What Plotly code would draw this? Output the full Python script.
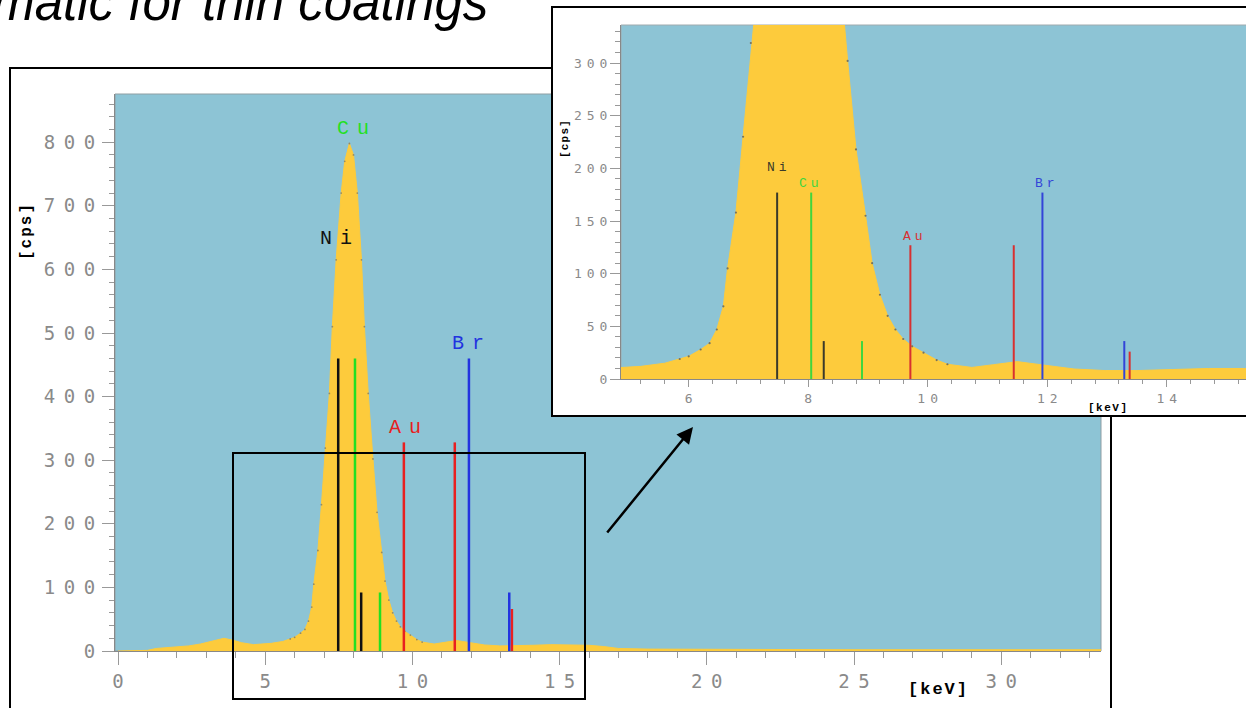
import plotly.graph_objects as go

W, H = 1246, 708

# ---------------- data ----------------
energy_kev = [0.0, 0.8, 1.0, 1.3, 1.6, 2.0, 2.4, 2.8, 3.2, 3.6, 3.9, 4.2, 4.6, 4.9,
              5.2, 5.6, 5.85, 6.0, 6.2, 6.35, 6.47, 6.58, 6.65, 6.79, 6.91, 7.04,
              7.18, 7.28, 7.41, 7.58, 7.7, 7.86, 8.0, 8.13, 8.27, 8.37, 8.5, 8.66,
              8.8, 8.96, 9.07, 9.2, 9.33, 9.46, 9.59, 9.74, 9.93, 10.15, 10.33,
              10.74, 11.1, 11.5, 11.7, 12.0, 12.45, 12.97, 13.5, 14.1, 14.7, 15.3,
              16.0, 16.5, 17.0, 18.0, 20.0, 25.0, 30.0, 33.4]
counts_cps = [0, 0, 1, 4, 5, 6, 8, 11, 15, 20, 17, 13, 10, 11,
              12, 15, 19, 21.5, 28, 34, 47, 69, 105, 158, 230, 319,
              405, 510, 615, 720, 770, 798, 780, 720, 615, 510, 405, 302,
              218, 155, 110, 80, 60, 47, 38, 31, 25, 18, 14,
              11, 13.6, 16.5, 15, 13, 9.5, 8, 8, 9, 10, 10,
              9, 7, 4, 3, 2.5, 2, 2, 2]

elements = ["Ni", "Cu", "Au", "Br"]
line_energy_kev = {"Ni": [7.48, 8.26], "Cu": [8.05, 8.90],
                   "Au": [9.71, 11.44, 13.38], "Br": [11.92, 13.29]}
main_line_cps = {"Ni": [460, 92], "Cu": [460, 92], "Au": [328, 328, 66], "Br": [460, 92]}
inset_line_cps = {"Ni": [177, 36], "Cu": [177, 36], "Au": [127, 127, 26], "Br": [177, 36]}

main_x_ticks = [0, 5, 10, 15, 20, 25, 30]
main_y_ticks = [0, 100, 200, 300, 400, 500, 600, 700, 800]
inset_x_ticks = [6, 8, 10, 12, 14]
inset_y_ticks = [0, 50, 100, 150, 200, 250, 300]

title_text = "Schematic for thin coatings"

# ---------------- styles ----------------
BLUE = "#8dc4d5"
YEL = "#fdcb3c"
GRAY = "#8a8a8a"
main_colors = {"Ni": "#111111", "Cu": "#22e022", "Au": "#e82020", "Br": "#2233e0"}
inset_colors = {"Ni": "#3a3a2a", "Cu": "#3fd63f", "Au": "#d83030", "Br": "#3344d8"}
MONO = "DejaVu Sans Mono"
SERIF_MONO = "Liberation Mono"


def spaced(s, px):
    s = str(s)
    if len(s) < 2:
        return s
    return '<span style="letter-spacing:%spx">%s</span>%s' % (px, s[:-1], s[-1])


def PX(x):
    return x / W


def PY(y):
    return 1 - y / H


fig = go.Figure()

# spectrum, main and inset
for xa, ya in (("x", "y"), ("x2", "y2")):
    fig.add_trace(go.Scatter(x=energy_kev, y=counts_cps, mode="lines", fill="tozeroy",
                             fillcolor=YEL, line=dict(color=YEL, width=1),
                             xaxis=xa, yaxis=ya, hoverinfo="skip", showlegend=False))

# small data-point dots on peak flanks
pk_x = [e for e in energy_kev if 5.8 <= e <= 10.4]
pk_y = [c for e, c in zip(energy_kev, counts_cps) if 5.8 <= e <= 10.4]
fig.add_trace(go.Scatter(x=pk_x, y=pk_y, mode="markers", marker=dict(size=2.2, color="#77735f"),
                         xaxis="x2", yaxis="y2", hoverinfo="skip", showlegend=False))
fig.add_trace(go.Scatter(x=pk_x, y=pk_y, mode="markers", marker=dict(size=1.8, color="#948a66"),
                         xaxis="x", yaxis="y", hoverinfo="skip", showlegend=False))

# emission lines
for el in elements:
    for xa, ya, heights, cols, wd in (("x", "y", main_line_cps, main_colors, 2.5),
                                       ("x2", "y2", inset_line_cps, inset_colors, 2)):
        xs, ys = [], []
        for e, h in zip(line_energy_kev[el], heights[el]):
            xs += [e, e, None]
            ys += [0, h, None]
        fig.add_trace(go.Scatter(x=xs, y=ys, mode="lines", line=dict(color=cols[el], width=wd),
                                 xaxis=xa, yaxis=ya, hoverinfo="skip", showlegend=False))

axis_common = dict(showgrid=False, zeroline=False, showline=True, linecolor="#888888",
                   linewidth=1, ticks="outside", tickcolor="#999999", tickwidth=1,
                   tickmode="array", fixedrange=True, automargin=False)

fig.update_layout(
    template="none",
    width=W, height=H, autosize=False,
    margin=dict(l=0, r=0, t=0, b=0, pad=0, autoexpand=False),
    paper_bgcolor="white", plot_bgcolor="rgba(0,0,0,0)",
    showlegend=False,
    xaxis=dict(axis_common, domain=[PX(115), PX(1101)], range=[-0.102, 33.39], anchor="y",
               tickvals=main_x_ticks, ticktext=[spaced(v, 8.5) for v in main_x_ticks],
               ticklen=13, ticklabelstandoff=0, tickfont=dict(family=MONO, size=19, color=GRAY),
               minor=dict(tickmode="linear", tick0=0, dtick=1, ticks="outside", ticklen=6,
                          tickcolor="#999999", showgrid=False)),
    yaxis=dict(axis_common, domain=[PY(651), PY(94)], range=[0, 875.8], anchor="x",
               tickvals=main_y_ticks, ticktext=[spaced(v, 8.5) for v in main_y_ticks],
               ticklen=12, ticklabelstandoff=3, tickfont=dict(family=MONO, size=19, color=GRAY),
               minor=dict(tickmode="linear", tick0=0, dtick=20, ticks="outside", ticklen=5,
                          tickcolor="#999999", showgrid=False)),
    xaxis2=dict(axis_common, domain=[PX(621), 1.0], range=[4.867, 15.327], anchor="y2",
                tickvals=inset_x_ticks, ticktext=[spaced(v, 5) for v in inset_x_ticks],
                ticklen=7, tickfont=dict(family=MONO, size=13, color=GRAY),
                minor=dict(tickmode="linear", tick0=0, dtick=0.4, ticks="outside", ticklen=4,
                           tickcolor="#999999", showgrid=False)),
    yaxis2=dict(axis_common, domain=[PY(379), PY(25)], range=[0, 336.1], anchor="x2",
                tickvals=inset_y_ticks, ticktext=[spaced(v, 5) for v in inset_y_ticks],
                ticklen=10, tickfont=dict(family=MONO, size=13, color=GRAY),
                minor=dict(tickmode="linear", tick0=0, dtick=10, ticks="outside", ticklen=5,
                           tickcolor="#999999", showgrid=False)),
)

shapes = [
    # main plot background
    dict(type="rect", xref="x domain", yref="y domain", x0=0, x1=1, y0=0, y1=1,
         fillcolor=BLUE, line=dict(color="#8f9ea3", width=1), layer="below"),
    # main outer frame
    dict(type="rect", xref="paper", yref="paper", x0=PX(10), x1=PX(1111), y0=PY(740), y1=PY(68),
         line=dict(color="black", width=2), fillcolor="rgba(0,0,0,0)", layer="below"),
    # inset white frame
    dict(type="rect", xref="paper", yref="paper", x0=PX(552), x1=PX(1262), y0=PY(416), y1=PY(7),
         line=dict(color="black", width=2), fillcolor="white", layer="below"),
    # inset plot background
    dict(type="rect", xref="x2 domain", yref="y2 domain", x0=0, x1=1.01, y0=0, y1=1,
         fillcolor=BLUE, line=dict(color="#a0aaae", width=1), layer="below"),
    # zoom box in main chart
    dict(type="rect", xref="paper", yref="paper", x0=PX(233), x1=PX(585), y0=PY(699), y1=PY(453),
         line=dict(color="black", width=2), fillcolor="rgba(0,0,0,0)", layer="above"),
]
fig.update_layout(shapes=shapes)

ann = []
# title (cut off at the top like the slide)
ann.append(dict(text="<i>" + title_text + "</i>", xref="paper", yref="paper",
                x=PX(490), y=PY(33), xanchor="right", yanchor="bottom", showarrow=False,
                font=dict(family="Liberation Sans", size=51, color="black")))
# axis titles
ann.append(dict(text="<b>" + spaced("[cps]", 2) + "</b>", xref="paper", yref="paper",
                x=PX(27), y=PY(232), xanchor="center", yanchor="middle", textangle=-90,
                showarrow=False, font=dict(family=SERIF_MONO, size=16, color="black")))
ann.append(dict(text="<b>" + spaced("[keV]", 2) + "</b>", xref="paper", yref="paper",
                x=PX(938), y=PY(689), xanchor="center", yanchor="middle",
                showarrow=False, font=dict(family=SERIF_MONO, size=17, color="black")))
ann.append(dict(text="<b>" + spaced("[cps]", 1.2) + "</b>", xref="paper", yref="paper",
                x=PX(565), y=PY(139), xanchor="center", yanchor="middle", textangle=-90,
                showarrow=False, font=dict(family=SERIF_MONO, size=11, color="black")))
ann.append(dict(text="<b>" + spaced("[keV]", 1.5) + "</b>", xref="paper", yref="paper",
                x=PX(1107), y=PY(408), xanchor="center", yanchor="middle",
                showarrow=False, font=dict(family=SERIF_MONO, size=11, color="black")))

# element labels
main_label_pos = {"Ni": (7.42, 649), "Cu": (7.98, 821), "Au": (9.75, 351), "Br": (11.89, 484)}
inset_label_pos = {"Ni": (7.48, 201), "Cu": (8.01, 186), "Au": (9.75, 135), "Br": (11.96, 186)}
for el in elements:
    x, y = main_label_pos[el]
    ann.append(dict(text=spaced(el, 8), xref="x", yref="y", x=x, y=y, xanchor="center",
                    yanchor="middle", showarrow=False,
                    font=dict(family=SERIF_MONO, size=20, color=main_colors[el])))
    x, y = inset_label_pos[el]
    ann.append(dict(text=spaced(el, 4), xref="x2", yref="y2", x=x, y=y, xanchor="center",
                    yanchor="middle", showarrow=False,
                    font=dict(family=SERIF_MONO, size=13, color=inset_colors[el])))

# arrow pointing to the inset
ann.append(dict(text="", xref="paper", yref="paper", x=PX(693), y=PY(427),
                ax=-87, ay=107, showarrow=True, arrowhead=2, arrowsize=1.3,
                arrowwidth=2.5, arrowcolor="black", standoff=0))
fig.update_layout(annotations=ann)

fig.write_html("out.html")
